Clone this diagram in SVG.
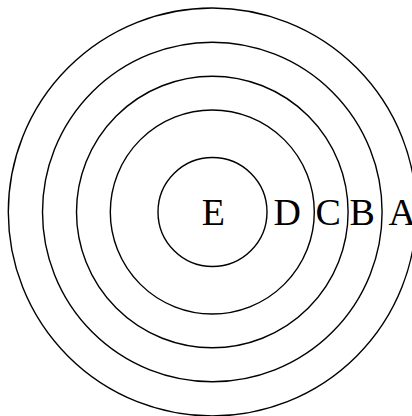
<svg xmlns="http://www.w3.org/2000/svg" width="412" height="416" viewBox="0 0 412 416">
<style>
circle{fill:none;stroke:#000;stroke-width:1.4}
text{font-family:"Liberation Serif","Times New Roman",serif;font-size:38px;fill:#000}
</style>
<rect width="412" height="416" fill="#fff"/>
<g id="A"><circle cx="212.3" cy="212" r="204"/><text x="388.5" y="225">A</text></g>
<g id="B"><circle cx="212.3" cy="212" r="169.8"/><text x="349.5" y="225">B</text></g>
<g id="C"><circle cx="212.3" cy="212" r="135.8"/><text x="315.5" y="225">C</text></g>
<g id="D"><circle cx="212.3" cy="212" r="102"/><text x="273.5" y="225">D</text></g>
<g id="E"><circle cx="212.5" cy="212" r="54.5"/><text x="201.8" y="225">E</text></g>
<g id="connectors"/>
</svg>
